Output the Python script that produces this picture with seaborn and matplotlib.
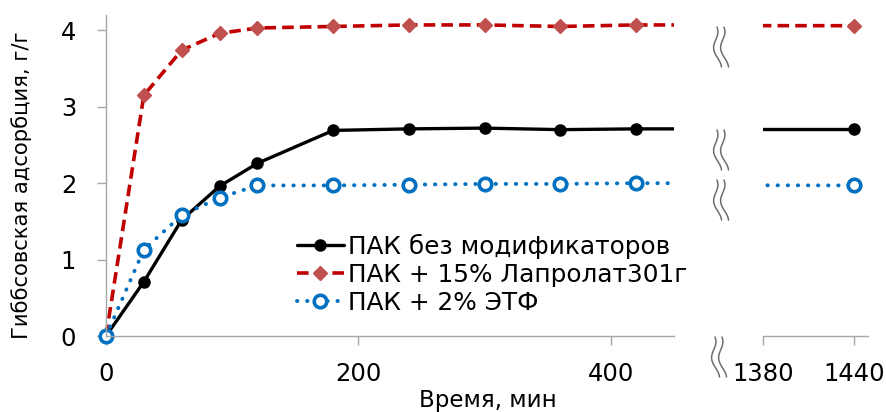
import numpy as np
import pandas as pd
import matplotlib
matplotlib.use("Agg")
import matplotlib.pyplot as plt
from matplotlib.lines import Line2D
from matplotlib.patches import Rectangle
import seaborn as sns

# ---- data ----
time_min = [0, 30, 60, 90, 120, 180, 240, 300, 360, 420, 1440]
pak_plain = [0, 0.71, 1.52, 1.96, 2.26, 2.69, 2.71, 2.72, 2.70, 2.71, 2.71]
pak_laprolat = [0, 3.15, 3.74, 3.96, 4.03, 4.05, 4.07, 4.07, 4.05, 4.07, 4.06]
pak_etf = [0, 1.13, 1.58, 1.81, 1.97, 1.97, 1.98, 1.99, 1.99, 2.00, 1.97]
series_names = ["ПАК без модификаторов", "ПАК + 15% Лапролат301г", "ПАК + 2% ЭТФ"]
left_xticks = [0, 200, 400]
right_xticks = [1380, 1440]
yticks = [0, 1, 2, 3, 4]
xlabel = "Время, мин"
ylabel = "Гиббсовская адсорбция, г/г"

sns.set_style("white")
plt.rcParams['font.family'] = ['DejaVu Sans']
plt.rcParams['text.color'] = 'black'

W, H = 887, 412
fig = plt.figure(figsize=(W / 100, H / 100), dpi=100)

def box(x0, x1, ytop, ybot):
    return [x0 / W, (H - ybot) / H, (x1 - x0) / W, (ybot - ytop) / H]

axL = fig.add_axes(box(106, 674, 15, 336))
axR = fig.add_axes(box(763, 868, 15, 336))

styles = [
    dict(color="black", linestyle="-", lw=2.4, marker="o", ms=8,
         mfc="black", mec="black", mew=1),
    dict(color="#C00000", linestyle=(0, (3.2, 1.7)), lw=2.6, marker="D", ms=7,
         mfc="#C0504D", mec="#C0504D", mew=1),
    dict(color="#0070C0", linestyle=(0, (0.1, 2.5)), dash_capstyle="round",
         lw=2.8, marker="o", ms=9, mfc="white", mec="#0070C0", mew=2.6),
]
data_list = [pak_plain, pak_laprolat, pak_etf]

for ax in (axL, axR):
    for vals, name, st in zip(data_list, series_names, styles):
        df = pd.DataFrame({"t": time_min, "v": vals})
        sns.lineplot(data=df, x="t", y="v", ax=ax, label=name, **st)
    ax.set_ylim(0, 4.2)
    ax.set_xlabel("")
    ax.set_ylabel("")
    if ax.get_legend():
        ax.get_legend().remove()

# let markers at x=0 overlap the y axis, but clip everything on the right edge
clip = Rectangle((-0.05, -0.05), 1.05, 1.15, transform=axL.transAxes)
for ln in axL.lines:
    ln.set_clip_path(clip)

axL.set_xlim(0, 450)
axR.set_xlim(1380, 1449.2)

gray = "#A6A6A6"
for ax in (axL, axR):
    for s in ("top", "right"):
        ax.spines[s].set_visible(False)
    ax.spines["bottom"].set_color(gray)
    ax.spines["bottom"].set_linewidth(1.0)
    ax.tick_params(axis="x", direction="out", length=6.5, width=1, color=gray,
                   labelsize=17.5, pad=12, bottom=True, labelcolor="black")

axL.spines["left"].set_color(gray)
axL.spines["left"].set_linewidth(1.0)
axL.set_xticks(left_xticks)
axL.set_yticks(yticks)
axL.tick_params(axis="y", direction="out", length=6.5, width=1, color=gray,
                labelsize=17.5, pad=15, left=True, labelcolor="black")

axR.spines["left"].set_visible(False)
axR.set_yticks([])
axR.set_xticks(right_xticks)
axR.set_xticklabels([str(v) for v in right_xticks])
axR.patch.set_alpha(0)
axL.patch.set_alpha(0)

fig.text(22 / W, (H - 185) / H, ylabel, ha="center", va="center",
         rotation=90, fontsize=15.2, color="black")
fig.text(488 / W, (H - 400) / H, xlabel, ha="center", va="center",
         fontsize=16.5, color="black")

# legend
handles, labels = axL.get_legend_handles_labels()
leg = axL.legend(handles[:3], labels[:3], loc="upper left",
                 bbox_to_anchor=((297 - 106) / 568, (336 - 234) / 321),
                 frameon=False, fontsize=17.8, handlelength=1.9,
                 handletextpad=0.15, labelspacing=0.15, borderpad=0,
                 borderaxespad=0)
for t in leg.get_texts():
    t.set_color("black")

# axis-break marks
def wave(cx, cy, h=40):
    t = np.linspace(0, 1, 60)
    for off in (-3.5, 3.5):
        xs = cx + off + 3.0 * np.sin(2 * np.pi * (t * 1.1 + 0.25)) - 4 * (t - 0.5)
        ys = cy + h * (0.5 - t)
        fig.add_artist(Line2D(xs / W, (H - ys) / H, color="#6E6E6E", lw=1.1,
                              transform=fig.transFigure))

for cx, cy in [(720, 47), (720, 150), (720, 200), (718, 357)]:
    wave(cx, cy)

fig.savefig("out.png", dpi=100)
